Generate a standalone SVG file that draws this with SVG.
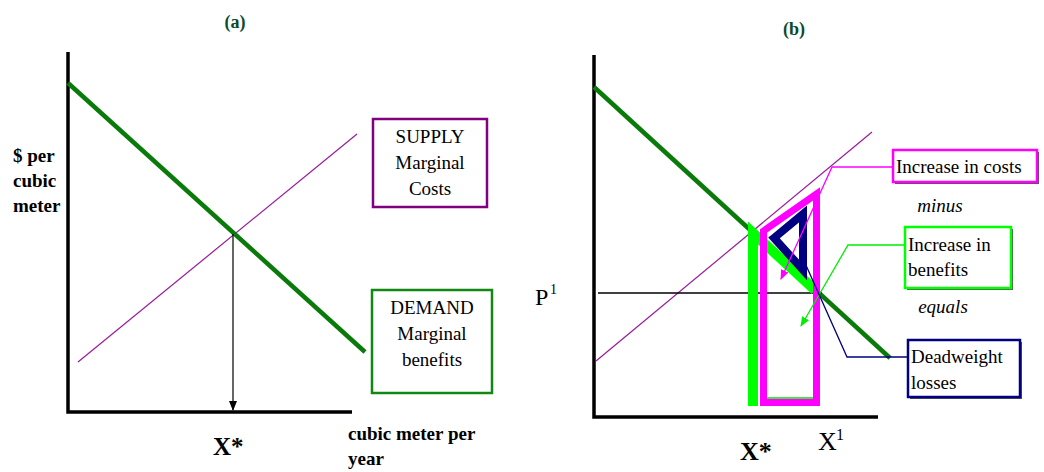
<svg xmlns="http://www.w3.org/2000/svg" width="1044" height="472" viewBox="0 0 1044 472">
<style>
.ser{font-family:"Liberation Serif","Times New Roman",serif;fill:#000}
.b{font-weight:bold}
.it{font-style:italic}
.title{font-family:"Liberation Serif",serif;font-weight:bold;font-size:18px;fill:#0b4a2a}
.axis{stroke:#000;stroke-width:3.5;fill:none}
.demand{stroke:#0a7a0a;stroke-width:4.5;fill:none}
.supply{stroke:#9a1a9a;stroke-width:1.2;fill:none}
.box{fill:#fff;stroke-width:2.5}
.shadow{fill:#555}
</style>
<defs>
<marker id="ahBlack" markerWidth="10" markerHeight="10" refX="9" refY="5" orient="auto" markerUnits="userSpaceOnUse"><path d="M0,1 L10,5 L0,9 Z" fill="#000"/></marker>
<marker id="ahMag" markerWidth="10" markerHeight="10" refX="9" refY="5" orient="auto" markerUnits="userSpaceOnUse"><path d="M0,1 L10,5 L0,9 Z" fill="#ff00ff"/></marker>
<marker id="ahLime" markerWidth="10" markerHeight="10" refX="9" refY="5" orient="auto" markerUnits="userSpaceOnUse"><path d="M0,1 L10,5 L0,9 Z" fill="#00ee00"/></marker>
</defs>

<!-- Panel (a) -->
<g id="panel-a">
<text class="title" x="235" y="28" text-anchor="middle">(a)</text>
<path class="axis" d="M68,52 V412 H352"/>
<line class="supply" x1="78" y1="362" x2="357" y2="134"/>
<line class="demand" x1="68" y1="83" x2="365" y2="352"/>
<text class="ser b" font-size="19" x="13" y="162">$ per</text>
<text class="ser b" font-size="19" x="13" y="187">cubic</text>
<text class="ser b" font-size="19" x="13" y="212">meter</text>
<text class="ser b" font-size="25" x="213" y="455">X*</text>
<text class="ser b" font-size="19" x="348" y="440">cubic meter per</text>
<text class="ser b" font-size="19" x="348" y="465">year</text>
</g>
<g id="connectors-a">
<line x1="233" y1="234" x2="233" y2="410" stroke="#000" stroke-width="1.2" marker-end="url(#ahBlack)"/>
</g>
<g id="supply-box">
<rect class="box" x="373" y="119" width="114" height="88" stroke="#800080"/>
<text class="ser" font-size="19" x="430" y="143" text-anchor="middle">SUPPLY</text>
<text class="ser" font-size="19" x="430" y="169" text-anchor="middle">Marginal</text>
<text class="ser" font-size="19" x="430" y="195" text-anchor="middle">Costs</text>
</g>
<g id="demand-box">
<rect class="box" x="372" y="290" width="120" height="103" stroke="#118811"/>
<text class="ser" font-size="19" x="432" y="314" text-anchor="middle">DEMAND</text>
<text class="ser" font-size="19" x="432" y="340" text-anchor="middle">Marginal</text>
<text class="ser" font-size="19" x="432" y="366" text-anchor="middle">benefits</text>
</g>

<!-- Panel (b) -->
<g id="panel-b">
<text class="title" x="794" y="35" text-anchor="middle">(b)</text>
<path class="axis" d="M594,55 V417 H878"/>
<line class="supply" x1="596" y1="361" x2="872" y2="132"/>
<line class="demand" x1="594" y1="87" x2="890" y2="358"/>
<line x1="598" y1="293" x2="822" y2="293" stroke="#000" stroke-width="1.3"/>
<path d="M815,290 L753,233 V406" fill="none" stroke="#00ff00" stroke-width="10" stroke-linejoin="miter"/>
<line x1="766" y1="398" x2="814" y2="398" stroke="#00dd00" stroke-width="1.5"/>
<polygon points="763.5,231 816.5,194 816.5,402.5 763.5,402.5" fill="none" stroke="#ff00ff" stroke-width="7" stroke-linejoin="miter"/>
<polygon points="774,238 803,214 803,270" fill="none" stroke="#000080" stroke-width="8" stroke-linejoin="miter"/>
<text class="ser" font-size="24" x="535" y="305">P</text>
<text class="ser" font-size="14" x="550" y="294">1</text>
<text class="ser b" font-size="26" x="740" y="460">X*</text>
<text class="ser" font-size="26" x="818" y="450">X</text>
<text class="ser" font-size="16" x="836" y="440">1</text>
<text class="ser it" font-size="19" x="940" y="212" text-anchor="middle">minus</text>
<text class="ser it" font-size="19" x="943" y="313" text-anchor="middle">equals</text>
</g>
<g id="connectors-b">
<polyline points="893,167 832,167 781,279" fill="none" stroke="#ff00ff" stroke-width="1.3" marker-end="url(#ahMag)"/>
<polyline points="905,245 848,245 801,326" fill="none" stroke="#00ee00" stroke-width="1.3" marker-end="url(#ahLime)"/>
<polyline points="908,357 847,357 805,263" fill="none" stroke="#000080" stroke-width="1.3"/>
</g>
<g id="costs-box">
<rect class="shadow" x="895" y="152" width="144" height="32"/>
<rect class="box" x="893" y="150" width="144" height="32" stroke="#ff00ff" stroke-width="2"/>
<text class="ser" font-size="19" x="896" y="173">Increase in costs</text>
</g>
<g id="benefits-box">
<rect class="shadow" x="907" y="229" width="106" height="61"/>
<rect class="box" x="905" y="227" width="106" height="61" stroke="#00ff00" stroke-width="2"/>
<text class="ser" font-size="19" x="908" y="251">Increase in</text>
<text class="ser" font-size="19" x="908" y="276">benefits</text>
</g>
<g id="deadweight-box">
<rect class="shadow" x="910" y="342" width="112" height="57"/>
<rect class="box" x="908" y="340" width="112" height="57" stroke="#000080" stroke-width="2"/>
<text class="ser" font-size="19" x="911" y="363">Deadweight</text>
<text class="ser" font-size="19" x="911" y="389">losses</text>
</g>
</svg>
